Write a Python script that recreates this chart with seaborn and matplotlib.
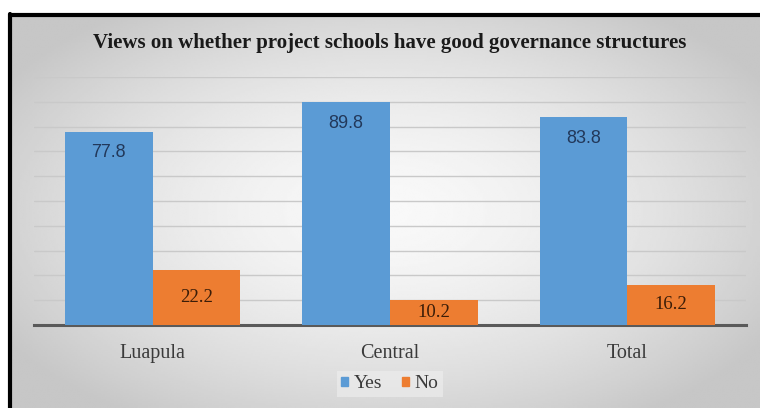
import numpy as np
import pandas as pd
import matplotlib
matplotlib.use("Agg")
import matplotlib.pyplot as plt
from matplotlib.lines import Line2D
import seaborn as sns

# Survey responses by province (percent)
regions = ["Luapula", "Central", "Total"]
yes_pct = [77.8, 89.8, 83.8]
no_pct = [22.2, 10.2, 16.2]
responses = ["Yes", "No"]
title = "Views on whether project schools have good governance structures"

df = pd.DataFrame({
    "Region": regions * 2,
    "Response": ["Yes"] * len(regions) + ["No"] * len(regions),
    "Percent": yes_pct + no_pct,
})

sns.set_theme(style="white")
plt.rcParams["font.family"] = ["Liberation Serif", "DejaVu Serif"]

W, H = 760, 408
fig = plt.figure(figsize=(W / 100, H / 100), dpi=100)
fig.patch.set_facecolor("white")

# Chart area background: soft radial gradient, light centre, grey edges
bx0, by1 = 10 / W, 1 - 15 / H
bg = fig.add_axes([bx0, 0, 1 - bx0, by1], zorder=-5)
yy, xx = np.mgrid[-1:1:200j, -1:1:400j]
r = np.sqrt((xx * 0.95) ** 2 + (yy * 0.9) ** 2)
shade = np.clip(0.975 - 0.16 * r ** 1.6, 0.78, 1.0)
bg.imshow(shade, cmap="gray", vmin=0, vmax=1, aspect="auto",
          extent=[0, 1, 0, 1], interpolation="bilinear")
bg.set_axis_off()

# Black frame on the left and top edges
fig.add_artist(Line2D([bx0, bx0], [0, by1 + 1.5 / H], color="black",
                      lw=3, transform=fig.transFigure))
fig.add_artist(Line2D([bx0, 1], [by1, by1], color="black",
                      lw=3, transform=fig.transFigure))

ax = fig.add_axes([34 / W, 1 - 325 / H, (746 - 34) / W, (325 - 77) / H])
ax.set_facecolor("none")

palette = {"Yes": "#5b9bd5", "No": "#ed7d31"}
sns.barplot(data=df, x="Region", y="Percent", hue="Response",
            hue_order=responses, order=regions, palette=palette,
            width=0.74, saturation=1, linewidth=0, ax=ax, legend=False,
            zorder=3)

ax.set_ylim(0, 100)
ax.set_yticks(np.arange(10, 101, 10))
ax.yaxis.grid(True, color="#c9c9c9", lw=1)
ax.set_axisbelow(True)
ax.tick_params(axis="y", left=False, labelleft=False)
ax.tick_params(axis="x", bottom=False, labelsize=14.5, colors="#3a3a3a", pad=8)
ax.set_xlabel("")
ax.set_ylabel("")
for side in ["top", "right", "left"]:
    ax.spines[side].set_visible(False)
ax.spines["bottom"].set_color("#5a5a5a")
ax.spines["bottom"].set_linewidth(2.2)

yes_bars, no_bars = ax.containers[0], ax.containers[1]
for bar, val in zip(yes_bars, yes_pct):
    ax.annotate(f"{val:.1f}", xy=(bar.get_x() + bar.get_width() / 2, val),
                xytext=(0, -15), textcoords="offset points",
                ha="center", va="center", fontsize=13,
                family=["Liberation Sans", "DejaVu Sans"], color="#22385a")
ax.bar_label(no_bars, labels=[f"{v:.1f}" for v in no_pct], label_type="center",
             fontsize=13.5, color="#3b1d08")

fig.text((34 + 746) / 2 / W, 1 - 43 / H, title, ha="center", va="center",
         fontsize=15, fontweight="bold", color="#1a1a1a")

handles = [plt.Rectangle((0, 0), 1, 1, color=palette[k]) for k in responses]
leg = fig.legend(handles, responses, loc="center", ncol=2,
                 bbox_to_anchor=(390 / W, 1 - 384 / H), frameon=True,
                 fontsize=14, handlelength=0.35, handleheight=0.35,
                 handletextpad=0.3, columnspacing=1.0, borderpad=0.25,
                 fancybox=False)
leg.get_frame().set_facecolor("#efefef")
leg.get_frame().set_edgecolor("none")
leg.get_frame().set_alpha(0.6)
for t in leg.get_texts():
    t.set_color("#3a3a3a")

fig.savefig("out.png", dpi=100)
